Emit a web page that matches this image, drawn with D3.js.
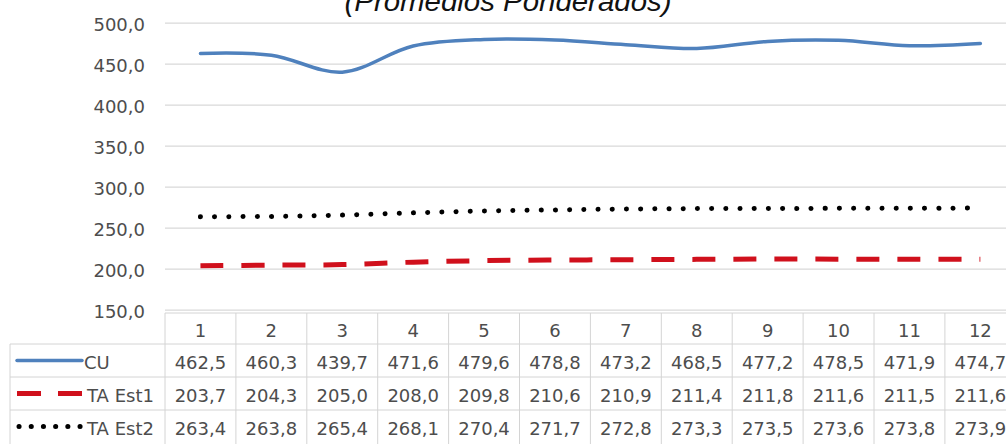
<!DOCTYPE html>
<html>
<head>
<meta charset="utf-8">
<script src="https://cdn.jsdelivr.net/npm/d3@7/dist/d3.min.js"></script>
<style>
  html, body { margin: 0; padding: 0; background: #fff; overflow: hidden; }
  svg { display: block; }
  text { font-family: "DejaVu Sans", sans-serif; }
</style>
</head>
<body>
<svg id="chart" width="1006" height="444"></svg>
<script>
// Monthly weighted averages per series
const categories = ["1","2","3","4","5","6","7","8","9","10","11","12"];
const cuValues   = [462.5, 460.3, 439.7, 471.6, 479.6, 478.8, 473.2, 468.5, 477.2, 478.5, 471.9, 474.7];
const est1Values = [203.7, 204.3, 205.0, 208.0, 209.8, 210.6, 210.9, 211.4, 211.8, 211.6, 211.5, 211.6];
const est2Values = [263.4, 263.8, 265.4, 268.1, 270.4, 271.7, 272.8, 273.3, 273.5, 273.6, 273.8, 273.9];
const seriesNames = ["CU", "TA Est1", "TA Est2"];
const yTicks = [150, 200, 250, 300, 350, 400, 450, 500];
const titleText = "(Promedios Ponderados)";

const series = [
  { name: seriesNames[0], values: cuValues,   color: "#4f81bd", width: 3.5, dash: null,       cap: "round" },
  { name: seriesNames[1], values: est1Values, color: "#d0101c", width: 5,   dash: "23 18",    cap: "butt" },
  { name: seriesNames[2], values: est2Values, color: "#000000", width: 5,   dash: "0.1 14.1", cap: "round" }
];

const W = 1006, H = 444;
const plotLeft = 165, bandW = 70.9;
const textColor = "#4d4d4d";
const svg = d3.select("#chart");

const x = d3.scaleBand().domain(categories).range([plotLeft, plotLeft + bandW * categories.length]).padding(0);
const y = d3.scaleLinear().domain([150, 500]).range([309.7, 22.7]);
const fmt = v => d3.format(".1f")(v).replace(".", ",");

// Title (runs off the top edge)
svg.append("text")
  .attr("x", 508).attr("y", 11)
  .attr("text-anchor", "middle")
  .style("font-family", "'Liberation Sans', Arial, sans-serif")
  .attr("font-style", "italic")
  .attr("font-size", 27)
  .attr("textLength", 327)
  .attr("lengthAdjust", "spacingAndGlyphs")
  .attr("fill", "#111")
  .text(titleText);

// Horizontal gridlines and value labels
const yAxis = d3.axisLeft(y)
  .tickValues(yTicks)
  .tickSize(-(W - plotLeft))
  .tickPadding(20)
  .tickFormat(fmt);

const gy = svg.append("g")
  .attr("transform", `translate(${plotLeft},0)`)
  .call(yAxis);
gy.select(".domain").remove();
gy.selectAll(".tick line").attr("stroke", "#d9d9d9").attr("stroke-width", 1.2);
gy.selectAll(".tick text")
  .attr("fill", textColor)
  .attr("font-size", 18)
  .attr("dy", null)
  .attr("y", 8);

// Series lines
const line = d3.line()
  .x((d, i) => x(categories[i]) + x.bandwidth() / 2)
  .y(d => y(d))
  .curve(d3.curveCatmullRom.alpha(0.5));

series.forEach(s => {
  svg.append("path")
    .datum(s.values)
    .attr("fill", "none")
    .attr("stroke", s.color)
    .attr("stroke-width", s.width)
    .attr("stroke-linecap", s.cap)
    .attr("stroke-linejoin", "round")
    .attr("stroke-dasharray", s.dash)
    .attr("d", line);
});

// Data table under the plot
const tableTop = 313, headerBottom = 344, rowH = 33, legendLeft = 10;
const gridColor = "#d4d4d4";
const table = svg.append("g");

// header top border
table.append("line")
  .attr("x1", plotLeft).attr("x2", W)
  .attr("y1", tableTop).attr("y2", tableTop)
  .attr("stroke", gridColor);

// row borders
[0, 1, 2].forEach(r => {
  table.append("line")
    .attr("x1", legendLeft).attr("x2", W)
    .attr("y1", headerBottom + r * rowH).attr("y2", headerBottom + r * rowH)
    .attr("stroke", gridColor);
});

// left border of legend column
table.append("line")
  .attr("x1", legendLeft).attr("x2", legendLeft)
  .attr("y1", headerBottom).attr("y2", H)
  .attr("stroke", gridColor);

// column borders
const colEdges = categories.map(c => x(c)).concat([x(categories[categories.length - 1]) + x.bandwidth()]);
table.selectAll(".col").data(colEdges).enter().append("line")
  .attr("x1", d => d).attr("x2", d => d)
  .attr("y1", tableTop).attr("y2", H)
  .attr("stroke", gridColor);

// header labels
table.selectAll(".hdr").data(categories).enter().append("text")
  .attr("x", d => x(d) + x.bandwidth() / 2)
  .attr("y", 337)
  .attr("text-anchor", "middle")
  .attr("font-size", 18)
  .attr("fill", textColor)
  .text(d => d);

// value rows
series.forEach((s, r) => {
  const baseY = 369 + r * rowH;
  table.selectAll(".v" + r).data(s.values).enter().append("text")
    .attr("x", (d, i) => x(categories[i]) + x.bandwidth() / 2)
    .attr("y", baseY)
    .attr("text-anchor", "middle")
    .attr("font-size", 18)
    .attr("fill", textColor)
    .text(d => fmt(d));

  // legend key
  const keyY = headerBottom + r * rowH + rowH / 2;
  table.append("line")
    .attr("x1", r === 2 ? 19 : 17).attr("x2", 82)
    .attr("y1", keyY).attr("y2", keyY)
    .attr("stroke", s.color)
    .attr("stroke-width", s.width)
    .attr("stroke-linecap", s.cap)
    .attr("stroke-dasharray", r === 1 ? "24 17" : (r === 2 ? "0.1 12.1" : null));

  table.append("text")
    .attr("x", r === 0 ? 84 : 87)
    .attr("y", baseY)
    .attr("font-size", 18)
    .attr("fill", textColor)
    .text(s.name);
});
</script>
</body>
</html>
